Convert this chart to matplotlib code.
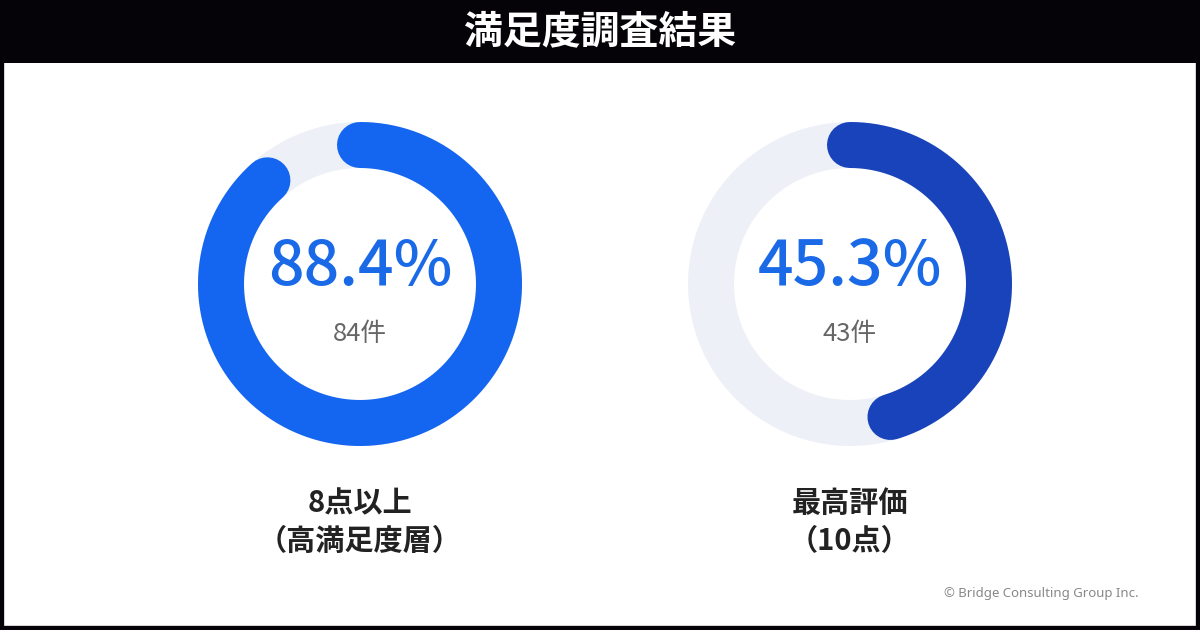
import matplotlib

matplotlib.use("Agg")
import matplotlib.pyplot as plt
import numpy as np

plt.rcParams["font.family"] = ["Noto Sans CJK JP", "DejaVu Sans"]

TITLE = "満足度調査結果"
PERCENTS = [88.4, 45.3]
COUNTS = [84, 43]
LABELS = ["8点以上\n（高満足度層）", "最高評価\n（10点）"]
ARC_COLORS = ["#1466f0", "#1843bb"]
CREDIT = "© Bridge Consulting Group Inc."

W, H = 1200, 630
CENTERS_X = [360, 850]
CENTER_Y = 284
RADIUS = 139          # middle of the ring, in pixels
RING_WIDTH = 46
TRACK_COLOR = "#eef0f7"
PCT_COLOR = "#1a6ae8"


def ring_xy(cx, cy, r, frac):
    # start at 12 o'clock, go clockwise (y axis points down)
    theta = np.linspace(0, 2 * np.pi * frac, 400)
    return cx + r * np.sin(theta), cy - r * np.cos(theta)


fig = plt.figure(figsize=(W / 100, H / 100), dpi=100)
ax = fig.add_axes([0, 0, 1, 1])
ax.set_xlim(0, W)
ax.set_ylim(H, 0)
ax.axis("off")

px_to_pt = 72 / 100
lw = RING_WIDTH * px_to_pt

# frame and title bar
ax.add_patch(plt.Rectangle((0, 0), W, H, facecolor="white", edgecolor="#050307", lw=6))
ax.add_patch(plt.Rectangle((0, 0), W, 63, facecolor="#050307", edgecolor="none"))
ax.text(W / 2, 32, TITLE, color="white", fontsize=28, fontweight="bold",
        ha="center", va="center")

for cx, pct, cnt, label, col in zip(CENTERS_X, PERCENTS, COUNTS, LABELS, ARC_COLORS):
    tx, ty = ring_xy(cx, CENTER_Y, RADIUS, 1.0)
    ax.plot(tx, ty, color=TRACK_COLOR, lw=lw, solid_capstyle="butt")
    ax_, ay_ = ring_xy(cx, CENTER_Y, RADIUS, pct / 100)
    ax.plot(ax_, ay_, color=col, lw=lw, solid_capstyle="round")

    ax.text(cx, CENTER_Y - 17, f"{pct:.1f}%", color=PCT_COLOR, fontsize=45,
            fontweight="medium", ha="center", va="center")
    ax.text(cx, CENTER_Y + 50, f"{cnt}件", color="#666666", fontsize=18.5,
            ha="center", va="center")
    ax.text(cx, 522, label, color="#222222", fontsize=21, fontweight="bold",
            ha="center", va="center", linespacing=1.3)

ax.text(1139, 593, CREDIT, color="#888888", fontsize=9.5, ha="right", va="center",
        family=["Noto Sans", "DejaVu Sans"])

fig.savefig("out.png", dpi=100)
